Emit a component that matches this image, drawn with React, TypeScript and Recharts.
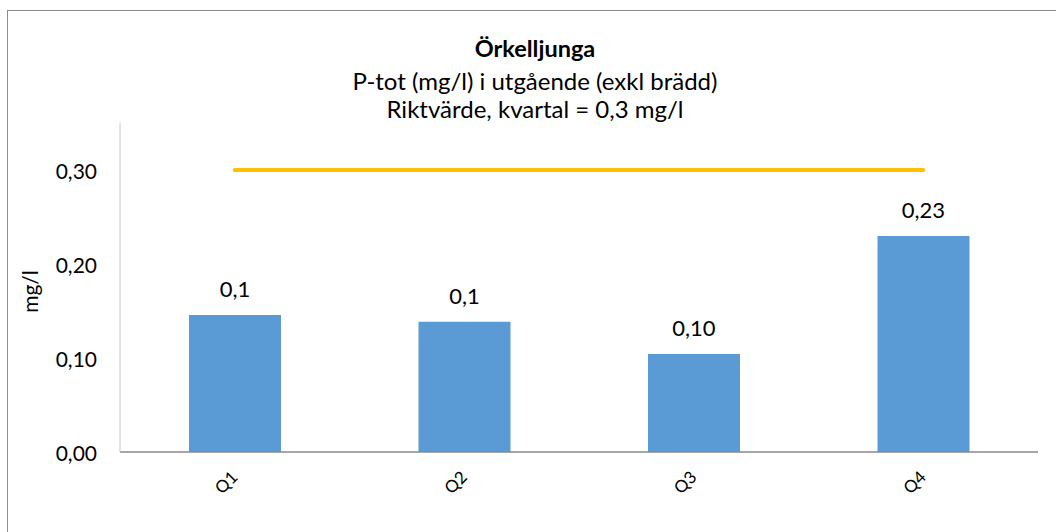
import React from 'react';
import { ComposedChart, Bar, Line, XAxis, YAxis, LabelList } from 'recharts';

const categories = ['Q1', 'Q2', 'Q3', 'Q4'];
const values = [0.1457, 0.1386, 0.1043, 0.2298];
const valueLabels = ['0,1', '0,1', '0,10', '0,23'];
const target = [0.3, 0.3, 0.3, 0.3];
const yTicks = [0, 0.1, 0.2, 0.3];
const yTickLabels = ['0,00', '0,10', '0,20', '0,30'];
const titleLines = ['Örkelljunga', 'P-tot (mg/l) i utgående (exkl brädd)', 'Riktvärde, kvartal = 0,3 mg/l'];

const data = categories.map((c, i) => ({ name: c, value: values[i], label: valueLabels[i], target: target[i] }));

const FONT = 'Lato, "Open Sans", sans-serif';

const XTick = (props: any) => {
  const { x, y, payload } = props;
  const cx = x - 9;
  const cy = y - 2;
  return (
    <text x={cx} y={cy} transform={`rotate(-45, ${cx}, ${cy})`} textAnchor="middle" dominantBaseline="central" fontSize={17} fontFamily={FONT} fill="#000">
      {payload.value}
    </text>
  );
};

const YTick = (props: any) => {
  const { x, y, payload } = props;
  const idx = yTicks.indexOf(payload.value);
  return (
    <text x={x} y={y} textAnchor="end" dominantBaseline="central" fontSize={21} fontFamily={FONT} fill="#000">
      {idx >= 0 ? yTickLabels[idx] : payload.value}
    </text>
  );
};

export default function App() {
  return (
    <div style={{ position: 'fixed', left: 0, top: 0, width: 1056, height: 532, overflow: 'hidden', background: '#fff', fontFamily: FONT }}>
      <div style={{ position: 'absolute', left: 7, top: 10, width: 1100, height: 600, border: '1px solid #8c8c8c' }} />
      <svg style={{ position: 'absolute', left: 0, top: 0 }} width={1056} height={130}>
        <text x={535} y={57} textAnchor="middle" fontSize={23.5} fontWeight={700} fontFamily={FONT} fill="#000">{titleLines[0]}</text>
        <text x={535} y={90} textAnchor="middle" fontSize={24} fontFamily={FONT} fill="#000">{titleLines[1]}</text>
        <text x={535} y={118} textAnchor="middle" fontSize={24} fontFamily={FONT} fill="#000">{titleLines[2]}</text>
      </svg>
      <div style={{ position: 'absolute', left: 0, top: 0 }}>
        <ComposedChart width={1056} height={532} data={data} margin={{ top: 123, right: 18, bottom: 0, left: 0 }} barCategoryGap="30%">
          <XAxis dataKey="name" height={80} tickLine={false} axisLine={{ stroke: '#898989', strokeWidth: 1.5 }} tick={<XTick />} tickSize={0} tickMargin={32} interval={0} />
          <YAxis width={120} domain={[0, 0.35]} ticks={yTicks} tickLine={false} axisLine={{ stroke: '#c8c8c8', strokeWidth: 1 }} tick={<YTick />} tickSize={0} tickMargin={23}
            label={{ value: 'mg/l', angle: -90, position: 'insideLeft', dx: 26, dy: 4, style: { fontSize: 21, fontFamily: FONT, fill: '#000', textAnchor: 'middle' } }} />
          <Bar dataKey="value" fill="#5B9BD5" barSize={92} isAnimationActive={false}>
            <LabelList dataKey="label" position="top" offset={18} style={{ fontSize: 22, fontFamily: FONT, fill: '#000' }} />
          </Bar>
          <Line dataKey="target" stroke="#FFC000" strokeWidth={4} strokeLinecap="round" dot={false} activeDot={false} isAnimationActive={false} />
        </ComposedChart>
      </div>
    </div>
  );
}
